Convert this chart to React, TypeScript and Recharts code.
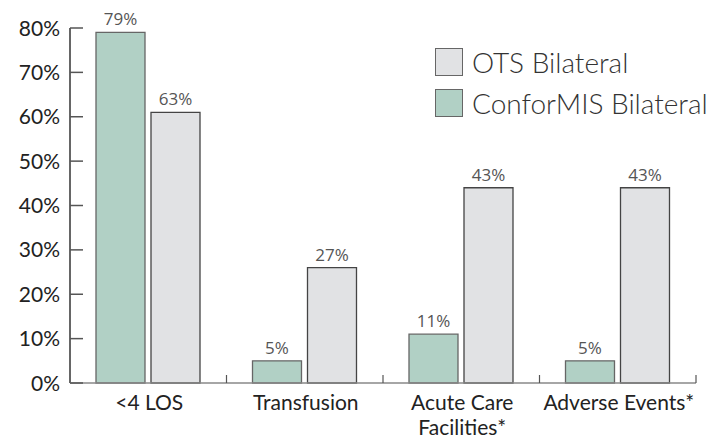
import React from "react";
import { BarChart, Bar, XAxis, YAxis, LabelList, Legend } from "recharts";

document.body.style.margin = "0";

const categories = ["<4 LOS", "Transfusion", "Acute Care\nFacilities*", "Adverse Events*"];
const conformisValues = [79, 5, 11, 5];
const otsValues = [61, 26, 44, 44];
const conformisLabels = ["79%", "5%", "11%", "5%"];
const otsLabels = ["63%", "27%", "43%", "43%"];
const yTicks = [0, 10, 20, 30, 40, 50, 60, 70, 80];

const data = categories.map((name, i) => ({
  name,
  conformis: conformisValues[i],
  ots: otsValues[i],
  conformisLabel: conformisLabels[i],
  otsLabel: otsLabels[i],
}));

const W = 727;
const H = 438;
const margin = { top: 28, right: 31, left: 10, bottom: 5 };
const yAxisWidth = 60;
const bandHalf = (W - margin.left - yAxisWidth - margin.right) / categories.length / 2;

const axisFont = "Lato, 'Open Sans', sans-serif";

function YTick(props: any) {
  const { x, y, payload } = props;
  return (
    <g>
      <line x1={x + 10} x2={x + 23} y1={y} y2={y} stroke="#555" strokeWidth={1.5} />
      <text x={x} y={y} dy="0.36em" textAnchor="end" fontSize={21} fill="#222" fontFamily={axisFont}>
        {payload.value}%
      </text>
    </g>
  );
}

function XTick(props: any) {
  const { x, y, payload } = props;
  const lines = String(payload.value).split("\n");
  return (
    <g>
      <line x1={x + bandHalf} x2={x + bandHalf} y1={y} y2={y - 8} stroke="#555" strokeWidth={1.2} />
      {lines.map((l, i) => (
        <text key={i} x={x + 1} y={y + 27 + i * 25} textAnchor="middle" fontSize={21} fill="#222" fontFamily={axisFont}>
          {l}
        </text>
      ))}
    </g>
  );
}

function LegendBox({ payload }: any) {
  const items = [...(payload || [])].reverse();
  return (
    <div style={{ fontFamily: axisFont }}>
      {items.map((it: any) => (
        <div key={it.value} style={{ display: "flex", alignItems: "center", height: 41 }}>
          <div
            style={{
              width: 26,
              height: 26,
              background: it.color,
              border: "1.5px solid #666",
              marginRight: 9,
            }}
          />
          <span style={{ fontSize: 28, fontWeight: 300, color: "#333" }}>{it.value}</span>
        </div>
      ))}
    </div>
  );
}

export default function App() {
  return (
    <div style={{ width: W, height: H, background: "#fff" }}>
      <BarChart width={W} height={H} data={data} margin={margin} barSize={49} barGap={6}>
        <YAxis
          width={yAxisWidth}
          domain={[0, 80]}
          ticks={yTicks}
          tickSize={0}
          tickMargin={10}
          tickLine={false}
          axisLine={{ stroke: "#333", strokeWidth: 1.5 }}
          tick={<YTick />}
          interval={0}
        />
        <XAxis
          dataKey="name"
          height={50}
          tickSize={0}
          tickMargin={0}
          tickLine={false}
          axisLine={{ stroke: "#888", strokeWidth: 1.5 }}
          tick={<XTick />}
          interval={0}
        />
        <Legend
          layout="vertical"
          align="center"
          verticalAlign="middle"
          content={<LegendBox />}
          wrapperStyle={{ position: "absolute", top: 41, left: 435, width: 290 }}
        />
        <Bar dataKey="conformis" name="ConforMIS Bilateral" fill="#b1d0c5" stroke="#666" strokeWidth={1.3} isAnimationActive={false}>
          <LabelList dataKey="conformisLabel" position="top" offset={7} fill="#555" fontSize={17} fontFamily="'Open Sans', sans-serif" />
        </Bar>
        <Bar dataKey="ots" name="OTS Bilateral" fill="#e1e2e4" stroke="#444" strokeWidth={1.3} isAnimationActive={false}>
          <LabelList dataKey="otsLabel" position="top" offset={7} fill="#555" fontSize={17} fontFamily="'Open Sans', sans-serif" />
        </Bar>
      </BarChart>
    </div>
  );
}
